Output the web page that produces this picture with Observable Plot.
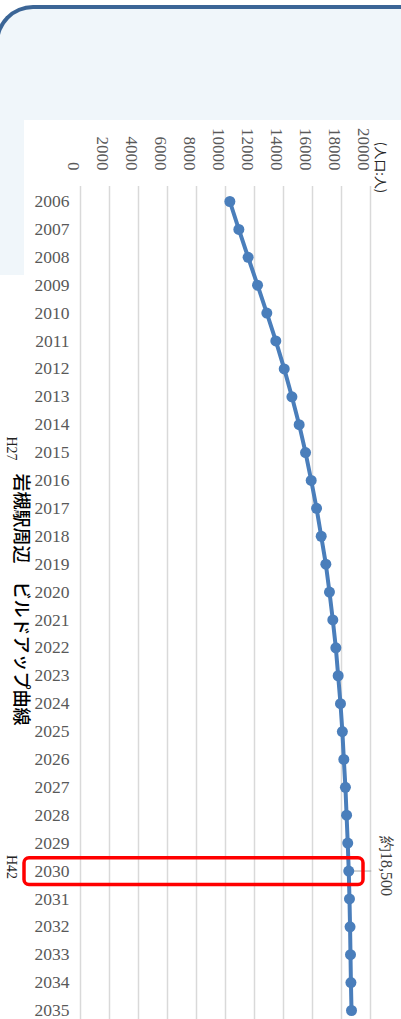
<!DOCTYPE html>
<html><head><meta charset="utf-8">
<script src="https://cdn.jsdelivr.net/npm/d3@7"></script>
<script src="https://cdn.jsdelivr.net/npm/@observablehq/plot@0.6"></script>
<style>
html,body{margin:0;padding:0;width:401px;height:1019px;overflow:hidden;background:#fff;}
#frame{position:absolute;left:-5px;top:5px;width:430px;height:266px;background:#f0f6fa;border-top:4px solid #3b6596;border-left:4px solid #3b6596;border-top-left-radius:38px;}
#white{position:absolute;left:24px;top:120px;right:0;bottom:0;background:#fff;}
#chart{position:absolute;left:0;top:0;}
</style></head><body>
<div id="frame"></div><div id="white"></div><div id="chart"></div>
<script>
const years = [2006,2007,2008,2009,2010,2011,2012,2013,2014,2015,2016,2017,2018,2019,2020,2021,2022,2023,2024,2025,2026,2027,2028,2029,2030,2031,2032,2033,2034,2035];
const population = [10300,10920,11560,12210,12850,13470,14050,14580,15080,15520,15910,16280,16600,16920,17170,17400,17610,17770,17930,18060,18160,18270,18350,18430,18500,18550,18590,18620,18650,18690];
const valueTicks = [0,2000,4000,6000,8000,10000,12000,14000,16000,18000,20000];
const title = "岩槻駅周辺　ビルドアップ曲線";
const unitLabel = "(人口:人)";
const eraYears = [2015, 2030];
const eraLabels = ["H27", "H42"];
const highlightYear = 2030;
const highlightLabel = "約18,500";

const data = years.map((y, i) => ({year: y, pop: population[i]}));
const eras = eraYears.map((y, i) => ({year: y, label: eraLabels[i]}));
const hl = data.filter(d => d.year === highlightYear);
const serif = "'Liberation Serif','DejaVu Serif',serif";
const cjk = "'Noto Sans CJK JP',sans-serif";

const chart = Plot.plot({
  width: 401, height: 1040,
  marginLeft: 80, marginRight: 31, marginTop: 186, marginBottom: 0,
  style: {background: "transparent", fontFamily: serif, overflow: "visible"},
  x: {domain: [0, 20000], axis: null},
  y: {domain: [2006, 2035], range: [201, 1010], axis: null},
  marks: [
    Plot.ruleX(valueTicks, {stroke: "#d9d9d9", strokeWidth: 1.5}),
    Plot.text(valueTicks, {x: d => d, text: d => String(d), frameAnchor: "top", dy: -16, rotate: 90, textAnchor: "end", fontSize: 17, fill: "#595959"}),
    Plot.text(years, {y: d => d, text: d => String(d), frameAnchor: "left", dx: -11, textAnchor: "end", fontSize: 17.5, fill: "#595959"}),
    Plot.text([unitLabel], {text: d => d, frameAnchor: "top-right", dx: 15, dy: -19, rotate: 90, textAnchor: "middle", fontSize: 13, fontFamily: cjk, fill: "#262626"}),
    Plot.text(eras, {y: "year", text: "label", frameAnchor: "left", dx: -69, dy: -4, rotate: 90, textAnchor: "middle", fontSize: 14, fill: "#222"}),
    Plot.text([title], {text: d => d, frameAnchor: "left", dx: -60, dy: -14, rotate: 90, textAnchor: "middle", fontSize: 18, fontWeight: 500, fontFamily: cjk, fill: "#000"}),
    Plot.ruleY(hl, {y: "year", x1: "pop", x2: "pop", insetRight: -23, stroke: "#a6a6a6", strokeWidth: 1}),
    Plot.line(data, {x: "pop", y: "year", stroke: "#4a7ebb", strokeWidth: 4}),
    Plot.dot(data, {x: "pop", y: "year", r: 5.5, fill: "#4a7ebb"}),
    Plot.rect(hl, {y1: d => d.year - 0.46, y2: d => d.year + 0.5, insetLeft: -56, insetRight: 7, fill: "none", stroke: "#ff0000", strokeWidth: 3.5, rx: 5}),
    Plot.text(hl, {x: "pop", y: "year", text: () => highlightLabel, rotate: 90, dx: 37, dy: -5, textAnchor: "middle", fontSize: 16, fill: "#404040"})
  ]
});
document.getElementById("chart").append(chart);
</script>
</body></html>
